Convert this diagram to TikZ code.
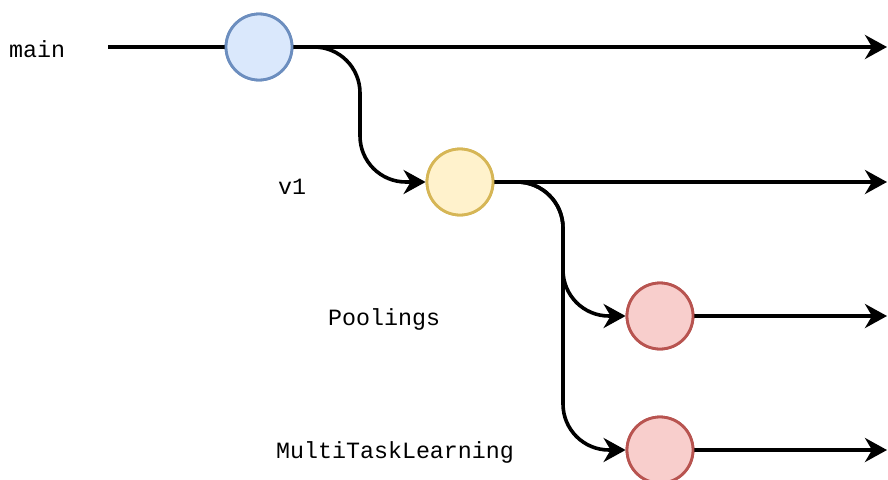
\documentclass[tikz,border=0pt]{standalone}
\usepackage{fontspec}
\setmonofont{Liberation Mono}
\usetikzlibrary{arrows.meta}
\definecolor{bluefill}{HTML}{DAE8FC}
\definecolor{bluedraw}{HTML}{6C8EBF}
\definecolor{yellowfill}{HTML}{FFF2CC}
\definecolor{yellowdraw}{HTML}{D6B656}
\definecolor{redfill}{HTML}{F8CECC}
\definecolor{reddraw}{HTML}{B85450}
\begin{document}
\begin{tikzpicture}[x=1pt,y=-1pt,
  commit/.style={circle,line width=2.8pt,minimum size=66pt,inner sep=0pt},
  bluecommit/.style={commit,draw=bluedraw,fill=bluefill},
  yellowcommit/.style={commit,draw=yellowdraw,fill=yellowfill},
  redcommit/.style={commit,draw=reddraw,fill=redfill},
  branchline/.style={line width=3.6pt,black,-{Stealth[length=22pt,width=24pt,inset=7pt]}},
  plainline/.style={line width=3.6pt,black},
  lbl/.style={font=\ttfamily\fontsize{23.3}{26}\selectfont,anchor=west,inner sep=0pt}]
\clip (0,0) rectangle (888,479);
\fill[white] (0,0) rectangle (888,479);

% commits
\node[bluecommit]   (c0) at (259,47)  {};
\node[yellowcommit] (c1) at (460,182) {};
\node[redcommit]    (c2) at (660,316) {};
\node[redcommit]    (c3) at (660,450) {};

% branch labels
\node[lbl] (lmain) at (9,49)   {main};
\node[lbl] (lv1)   at (278,187) {v1};
\node[lbl] (lpool) at (328,319) {Poolings};
\node[lbl] (lmtl)  at (276,452) {MultiTaskLearning};

% branch ends
\coordinate (s0) at (108,47);
\coordinate (e0) at (887,47);
\coordinate (e1) at (887,182);
\coordinate (e2) at (887,316);
\coordinate (e3) at (887,450);

% straight branch lines
\draw[plainline] (s0) -- (c0.west);
\draw[branchline] (c0.east) -- (e0);
\draw[branchline] (c1.east) -- (e1);
\draw[branchline] (c2.east) -- (e2);
\draw[branchline] (c3.east) -- (e3);

% branching curves
\draw[branchline,rounded corners=46pt] (c0.east) -- (360,47) -- (360,182) -- (c1.west);
\draw[branchline,rounded corners=46pt] (c1.east) -- (563,182) -- (563,316) -- (c2.west);
\draw[branchline,rounded corners=46pt] (c1.east) -- (563,182) -- (563,450) -- (c3.west);

% commits drawn over the line ends
\node[bluecommit]   at (c0) {};
\node[yellowcommit] at (c1) {};
\node[redcommit]    at (c2) {};
\node[redcommit]    at (c3) {};
\end{tikzpicture}
\end{document}
